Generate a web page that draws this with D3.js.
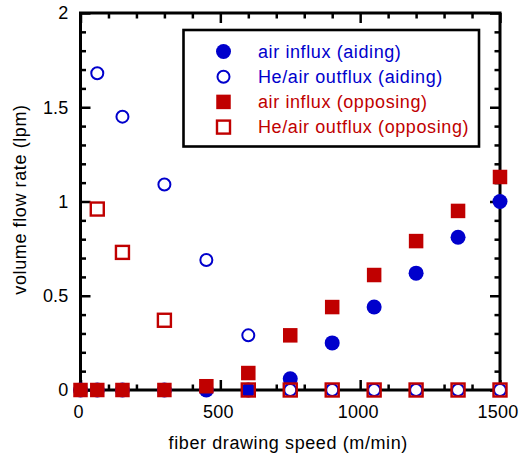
<!DOCTYPE html>
<html>
<head>
<meta charset="utf-8">
<script src="https://cdn.jsdelivr.net/npm/d3@7/dist/d3.min.js"></script>
<style>
  html, body { margin: 0; padding: 0; background: #fff; }
  svg { display: block; font-family: "Liberation Sans", Arial, Helvetica, sans-serif; }
</style>
</head>
<body>
<svg id="chart" width="526" height="457"></svg>
<script>
// Fiber drawing speed (m/min) at which flow rates were measured
const speeds = [0, 60, 150, 300, 450, 600, 750, 900, 1050, 1200, 1350, 1500];

// Volume flow rates (lpm); null = no measurement at that speed
const airInfluxAiding      = [0, 0, 0, 0, 0, 0, 0.06, 0.25, 0.44, 0.62, 0.81, 1.00];
const outfluxAiding        = [null, 1.68, 1.45, 1.09, 0.69, 0.29, 0, 0, 0, 0, 0, 0];
const airInfluxOpposing    = [0, 0, 0, 0, 0.02, 0.09, 0.29, 0.44, 0.61, 0.79, 0.95, 1.13];
const outfluxOpposing      = [null, 0.96, 0.73, 0.37, null, 0, 0, 0, 0, 0, 0, 0];

const xTicks = [0, 500, 1000, 1500];
const yTicks = [0, 0.5, 1, 1.5, 2];
const yTickLabels = ["0", "0.5", "1", "1.5", "2"];

const legendLabels = [
  "air influx (aiding)",
  "He/air outflux (aiding)",
  "air influx (opposing)",
  "He/air outflux (opposing)"
];

const BLUE = "#0000cc";
const RED = "#c00000";

const svg = d3.select("#chart");
const m = { left: 80.5, right: 500, top: 13, bottom: 390 };

const x = d3.scaleLinear().domain([0, 1500]).range([m.left, m.right]);
const y = d3.scaleLinear().domain([0, 2]).range([m.bottom, m.top]);

const xMinor = d3.range(0, 1501, 100).filter(v => v % 500 !== 0);
const yMinor = d3.range(0, 21).map(v => v / 10).filter(v => Math.round(v * 10) % 5 !== 0);

function styleAxis(g) {
  g.select(".domain").remove();
  g.selectAll(".tick line").attr("stroke", "#000").attr("stroke-width", 2.5);
  g.selectAll(".tick text")
    .attr("fill", "#000")
    .attr("font-size", 18)
    .style("letter-spacing", "0.2px")
    .attr("font-family", "Liberation Sans, Arial, sans-serif");
}

// Bottom axis with labels (ticks point inward)
svg.append("g").attr("transform", `translate(0,${m.bottom})`)
  .call(d3.axisBottom(x).tickValues(xTicks).tickSize(-10).tickPadding(15).tickFormat(d3.format("d")))
  .call(styleAxis)
  .call(g => g.selectAll(".tick text").attr("dx", -2.5));
svg.append("g").attr("transform", `translate(0,${m.bottom})`)
  .call(d3.axisBottom(x).tickValues(xMinor).tickSize(-5.5).tickFormat(""))
  .call(styleAxis);

// Top axis (ticks only)
svg.append("g").attr("transform", `translate(0,${m.top})`)
  .call(d3.axisTop(x).tickValues(xTicks).tickSize(-10).tickFormat(""))
  .call(styleAxis);
svg.append("g").attr("transform", `translate(0,${m.top})`)
  .call(d3.axisTop(x).tickValues(xMinor).tickSize(-5.5).tickFormat(""))
  .call(styleAxis);

// Left axis with labels
svg.append("g").attr("transform", `translate(${m.left},0)`)
  .call(d3.axisLeft(y).tickValues(yTicks).tickSize(-10).tickPadding(12)
    .tickFormat((d, i) => yTickLabels[i]))
  .call(styleAxis);
svg.append("g").attr("transform", `translate(${m.left},0)`)
  .call(d3.axisLeft(y).tickValues(yMinor).tickSize(-5.5).tickFormat(""))
  .call(styleAxis);

// Right axis (ticks only)
svg.append("g").attr("transform", `translate(${m.right},0)`)
  .call(d3.axisRight(y).tickValues(yTicks).tickSize(-10).tickFormat(""))
  .call(styleAxis);
svg.append("g").attr("transform", `translate(${m.right},0)`)
  .call(d3.axisRight(y).tickValues(yMinor).tickSize(-5.5).tickFormat(""))
  .call(styleAxis);

// Frame
svg.append("rect")
  .attr("x", m.left).attr("y", m.top)
  .attr("width", m.right - m.left).attr("height", m.bottom - m.top)
  .attr("fill", "none").attr("stroke", "#000").attr("stroke-width", 3);

// Axis titles
svg.append("text")
  .attr("x", (m.left + m.right) / 2 - 2).attr("y", 449)
  .attr("text-anchor", "middle")
  .attr("font-size", 18)
  .style("letter-spacing", "0.6px")
  .text("fiber drawing speed (m/min)");

svg.append("text")
  .attr("transform", `translate(25.5,${(m.top + m.bottom) / 2 - 2}) rotate(-90)`)
  .attr("text-anchor", "middle")
  .attr("font-size", 18)
  .style("letter-spacing", "0.6px")
  .text("volume flow rate (lpm)");

// Marker painters
const markers = {
  filledCircle: (g, color) => g.append("circle").attr("r", 7.5).attr("fill", color),
  openCircle: (g, color) => g.append("circle").attr("r", 6).attr("fill", "#fff")
    .attr("stroke", color).attr("stroke-width", 2),
  filledSquare: (g, color) => g.append("rect").attr("x", -7.25).attr("y", -7.25)
    .attr("width", 14.5).attr("height", 14.5).attr("fill", color),
  openSquare: (g, color) => g.append("rect").attr("x", -6.5).attr("y", -6.5)
    .attr("width", 13).attr("height", 13).attr("fill", "none")
    .attr("stroke", color).attr("stroke-width", 2.4)
};

const series = [
  { values: airInfluxAiding, marker: "filledCircle", color: BLUE },
  { values: outfluxAiding, marker: "openCircle", color: BLUE },
  { values: airInfluxOpposing, marker: "filledSquare", color: RED },
  { values: outfluxOpposing, marker: "openSquare", color: RED }
];

series.forEach(s => {
  const pts = speeds.map((v, i) => ({ x: v, y: s.values[i] })).filter(p => p.y !== null);
  const g = svg.append("g");
  pts.forEach(p => {
    const mg = g.append("g").attr("transform", `translate(${x(p.x)},${y(p.y)})`);
    markers[s.marker](mg, s.color);
  });
});

// Legend
const legend = svg.append("g");
legend.append("rect")
  .attr("x", 183.5).attr("y", 30)
  .attr("width", 295.5).attr("height", 116.5)
  .attr("fill", "#fff").attr("stroke", "#000").attr("stroke-width", 2.6);

series.forEach((s, i) => {
  const cy = 51.5 + i * 25.2;
  const mg = legend.append("g").attr("transform", `translate(223.5,${cy})`);
  markers[s.marker](mg, s.color);
  legend.append("text")
    .attr("x", 258).attr("y", cy + 6)
    .attr("font-size", 18)
    .attr("fill", s.color)
    .style("letter-spacing", "0.6px")
    .text(legendLabels[i]);
});
</script>
</body>
</html>
